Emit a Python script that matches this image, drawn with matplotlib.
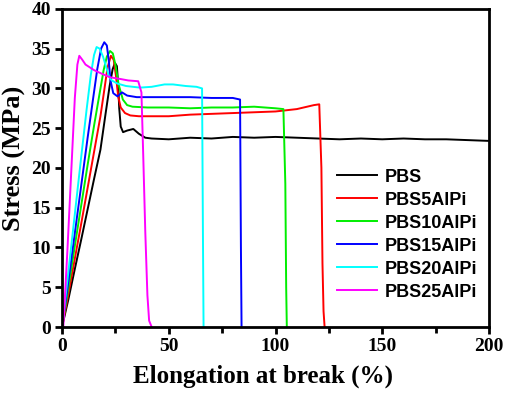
import numpy as np
import matplotlib.pyplot as plt

# stress-strain curves (elongation %, stress MPa)
pbs_x = [0, 3, 6, 9, 12, 15, 18, 20.5, 22.3, 23.7, 24.8, 25.7, 26.3, 26.8, 27.5, 28.6, 30.5, 33.4, 36, 39, 42, 50, 60, 70, 80, 90, 100, 110, 120, 130, 140, 150, 160, 170, 180, 190, 200]
pbs_y = [0, 3.5, 7.3, 11.0, 14.8, 18.6, 22.3, 27.0, 30.3, 32.4, 33.2, 32.8, 30.5, 27.5, 25.2, 24.5, 24.7, 24.9, 24.3, 23.8, 23.7, 23.6, 23.8, 23.7, 23.9, 23.8, 23.9, 23.8, 23.7, 23.6, 23.7, 23.6, 23.7, 23.6, 23.6, 23.5, 23.4]

p5_x = [0, 3, 6, 9, 12, 15, 18, 19.8, 21.3, 22.9, 24.2, 25.3, 26.3, 27.5, 29.5, 32, 36, 40, 50, 60, 70, 80, 90, 100, 110, 118, 120.5, 121.5, 122, 122.5, 123]
p5_y = [0, 4.2, 8.6, 13.0, 17.5, 22.0, 26.5, 29.8, 32.6, 34.1, 33.6, 31.5, 29.0, 27.6, 26.9, 26.6, 26.5, 26.5, 26.5, 26.7, 26.8, 26.9, 27.0, 27.1, 27.4, 27.9, 28.0, 20.0, 8.0, 2.0, 0]

p10_x = [0, 3, 6, 9, 12, 15, 17.5, 19.5, 21, 22.5, 23.8, 25, 26.5, 28.5, 30.5, 33, 40, 50, 60, 70, 80, 90, 100, 103.7, 104.6, 105, 105.3]
p10_y = [0, 5.0, 10.2, 15.3, 20.4, 25.3, 29.2, 32.3, 34.0, 34.7, 34.4, 33.0, 30.5, 28.6, 27.9, 27.7, 27.6, 27.6, 27.5, 27.6, 27.6, 27.7, 27.5, 27.4, 18.0, 5.0, 0]

p15_x = [0, 3, 6, 9, 12, 14.5, 16.5, 18.3, 19.8, 21, 21.9, 22.7, 24, 26, 28.1, 30.5, 35, 40, 50, 60, 70, 80, 83.4, 83.8, 84.1]
p15_y = [0, 5.8, 11.8, 17.8, 23.8, 28.6, 32.4, 35.0, 35.8, 35.4, 33.5, 31.0, 29.4, 29.0, 29.5, 29.1, 28.9, 28.9, 28.9, 28.9, 28.8, 28.8, 28.6, 10.0, 0]

p20_x = [0, 3, 6, 9, 11.5, 13.5, 15, 16.2, 17.6, 19.2, 20.8, 22, 23.3, 26, 30, 36.5, 42, 48, 52, 58, 63, 65.6, 66, 66.3]
p20_y = [0, 7.0, 14.2, 21.4, 27.3, 31.7, 34.2, 35.2, 35.0, 34.0, 32.6, 31.5, 31.0, 30.6, 30.3, 30.1, 30.2, 30.5, 30.5, 30.3, 30.2, 30.0, 12.0, 0]

p25_x = [0.6, 2.5, 4.5, 6, 7.2, 8.1, 9.5, 11, 15, 19, 22.5, 27, 31, 35.7, 37.2, 38.0, 39.0, 40.0, 40.8, 42]
p25_y = [0, 9.5, 20.5, 28.8, 33.0, 34.1, 33.6, 33.0, 32.3, 31.8, 31.4, 31.2, 31.0, 30.9, 29.5, 22.0, 12.0, 4.0, 0.8, 0]

series = [
    ("PBS", pbs_x, pbs_y, "black"),
    ("PBS5AlPi", p5_x, p5_y, "#ff0000"),
    ("PBS10AlPi", p10_x, p10_y, "#00ee00"),
    ("PBS15AlPi", p15_x, p15_y, "#0000ff"),
    ("PBS20AlPi", p20_x, p20_y, "#00ffff"),
    ("PBS25AlPi", p25_x, p25_y, "#ff00ff"),
]

fig = plt.figure(figsize=(5.05, 3.94), dpi=100)
ax = fig.add_axes([0.1228, 0.170, 0.8455, 0.8075])

for label, xs, ys, col in series:
    ax.plot(xs, ys, color=col, lw=1.4, label=label)

ax.set_xlim(0, 200)
ax.set_ylim(0, 40)
ax.set_xticks(np.arange(0, 201, 50))
ax.set_xticks(np.arange(25, 200, 50), minor=True)
ax.set_yticks(np.arange(0, 41, 5))

for sp in ax.spines.values():
    sp.set_linewidth(2)
ax.tick_params(which="both", direction="out", width=2, top=False, right=False)
ax.tick_params(which="major", length=5, pad=3)
ax.tick_params(which="minor", length=4)

for lab in ax.get_xticklabels() + ax.get_yticklabels():
    lab.set_family("Liberation Serif")
    lab.set_weight("bold")
    lab.set_size(14)

ax.set_xlabel("Elongation at break (%)", family="Liberation Serif", weight="bold", size=18, labelpad=7)
ax.set_ylabel("Stress (MPa)", family="Liberation Serif", weight="bold", size=19, labelpad=4)
# labels sit a little off-centre in the original
ax.xaxis.label.set_x(0.47)
ax.yaxis.label.set_y(0.53)

ax.legend(loc="upper left", bbox_to_anchor=(0.628, 0.52), frameon=False,
          prop={"family": "Liberation Sans", "weight": "bold", "size": 13},
          handlelength=2.2, labelspacing=0.33, handletextpad=0.45, borderaxespad=0)

fig.savefig("out.png", dpi=100)
